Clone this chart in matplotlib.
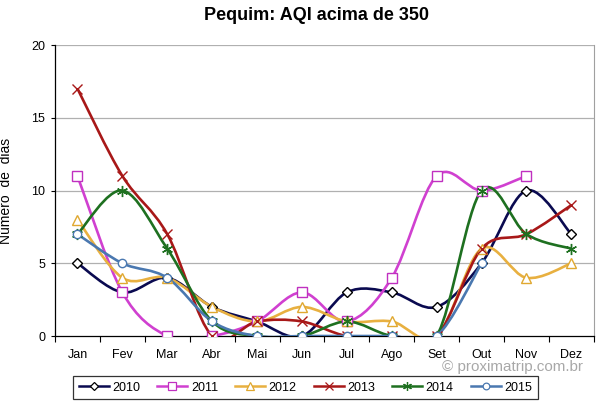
import numpy as np
import matplotlib.pyplot as plt
from matplotlib.path import Path
from matplotlib.patches import PathPatch
from matplotlib.lines import Line2D

plt.rcParams['font.family'] = ['Liberation Sans', 'DejaVu Sans']

# --- Data ---
months = ['Jan', 'Fev', 'Mar', 'Abr', 'Mai', 'Jun',
          'Jul', 'Ago', 'Set', 'Out', 'Nov', 'Dez']
y2010 = [5, 3, 4, 2, 1, 0, 3, 3, 2, 5, 10, 7]
y2011 = [11, 3, 0, 0, 1, 3, 1, 4, 11, 10, 11]
y2012 = [8, 4, 4, 2, 1, 2, 1, 1, 0, 6, 4, 5]
y2013 = [17, 11, 7, 0, 1, 1, 0, 0, 0, 6, 7, 9]
y2014 = [7, 10, 6, 1, 0, 0, 1, 0, 0, 10, 7, 6]
y2015 = [7, 5, 4, 1, 0, 0, 0, 0, 0, 5]

series = [
    ('2010', y2010, '#0a0a50', 'D', 'white', '#000000', 5.5),
    ('2011', y2011, '#d040d0', 's', 'white', '#c030c0', 7),
    ('2012', y2012, '#e8b040', '^', 'white', '#e0a830', 7),
    ('2013', y2013, '#a81818', 'x', 'none', '#a81818', 7),
    ('2014', y2014, '#1e7020', (6, 2, 0), 'none', '#1e7020', 8),
    ('2015', y2015, '#4a78b0', 'o', 'white', '#4a78b0', 6),
]


def smooth_path(xs, ys):
    # Excel-style smoothed line: cubic Bezier through each point
    pts = np.column_stack([xs, ys]).astype(float)
    n = len(pts)
    verts = [pts[0]]
    codes = [Path.MOVETO]
    for i in range(n - 1):
        p0 = pts[i - 1] if i > 0 else pts[i]
        p1 = pts[i]
        p2 = pts[i + 1]
        p3 = pts[i + 2] if i + 2 < n else pts[i + 1]
        c1 = p1 + (p2 - p0) / 6.0
        c2 = p2 - (p3 - p1) / 6.0
        verts += [c1, c2, p2]
        codes += [Path.CURVE4] * 3
    return Path(verts, codes)


fig = plt.figure(figsize=(6.0, 4.07), dpi=100)
ax = fig.add_axes([0.0917, 0.1744, 0.898, 0.715])

handles = []
for name, vals, color, marker, mfc, mec, ms in series:
    x = np.arange(len(vals))
    ax.add_patch(PathPatch(smooth_path(x, vals), facecolor='none',
                           edgecolor=color, lw=1.9, zorder=3))
    ax.plot(x, vals, linestyle='none', marker=marker, markersize=ms,
            markerfacecolor=mfc, markeredgecolor=mec, markeredgewidth=1.0,
            zorder=4)
    handles.append(Line2D([0], [0], color=color, lw=1.8, marker=marker,
                          markersize=ms * 0.8, markerfacecolor=mfc,
                          markeredgecolor=mec, markeredgewidth=0.9, label=name))

ax.set_xlim(-0.5, 11.5)
ax.set_ylim(0, 20)
ax.set_yticks([0, 5, 10, 15, 20])
ax.set_xticks(range(12))
ax.set_xticklabels(months)
ax.set_xticks(np.arange(-0.5, 12, 1), minor=True)
ax.tick_params(axis='x', which='major', length=0, pad=9, labelsize=9)
ax.tick_params(axis='x', which='minor', length=4, direction='out', width=0.8)
ax.tick_params(axis='y', length=3, direction='out', pad=4, labelsize=9,
               width=0.8)

for v in [5, 10, 15, 20]:
    ax.axhline(v, color='#b0b0b0', lw=0.9, zorder=1)

ax.spines['top'].set_visible(False)
ax.spines['right'].set_color('#a0a0a0')
ax.spines['left'].set_linewidth(0.9)
ax.spines['bottom'].set_linewidth(0.9)

ax.set_ylabel('Número  de  dias', fontsize=10)
ax.yaxis.set_label_coords(-0.078, 0.5)

fig.text(0.527, 0.963, 'Pequim: AQI acima de 350', ha='center', va='center',
         fontsize=13, fontweight='bold')

fig.text(0.972, 0.098, '© proximatrip.com.br', ha='right', va='center',
         fontsize=11, color='#a8a8a8')

leg = fig.legend(handles=handles, loc='center', ncol=6,
                 bbox_to_anchor=(0.509, 0.047), fontsize=9,
                 frameon=True, fancybox=False, handlelength=2.4,
                 handletextpad=0.3, columnspacing=1.35, borderpad=0.45)
leg.get_frame().set_edgecolor('black')
leg.get_frame().set_linewidth(0.9)

fig.savefig('out.png', dpi=100)
